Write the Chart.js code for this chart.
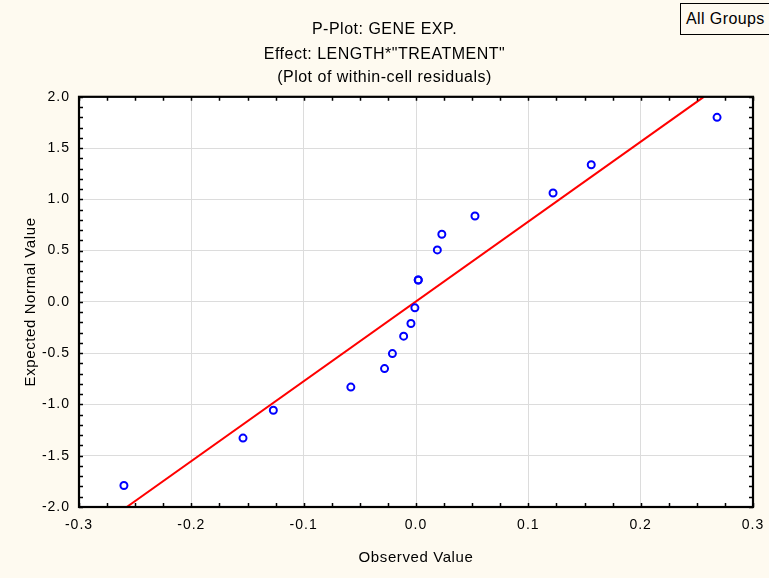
<!DOCTYPE html>
<html>
<head>
<meta charset="utf-8">
<script src="https://cdn.jsdelivr.net/npm/chart.js@4.4.1/dist/chart.umd.min.js"></script>
<style>
  html, body { margin: 0; padding: 0; background: #FEFAF0; }
  #wrap { position: relative; width: 769px; height: 578px; overflow: hidden; }
  #grp { position: absolute; left: 680px; top: 3px; width: 92px; height: 32px; border: 1px solid #000; background: #FEFAF0;
         font: 16px "Liberation Sans", Arial, sans-serif; letter-spacing: 0.4px; color: #000; line-height: 30px; padding-left: 5px; box-sizing: border-box; }
</style>
</head>
<body>
<div id="wrap">
  <canvas id="c" width="769" height="578"></canvas>
  <div id="grp">All Groups</div>
</div>
<script>
// Observed residuals (x) and expected normal values (y)
const observedValues = [-0.260, -0.154, -0.127, -0.058, -0.028, -0.021, -0.011, -0.0045, -0.001, 0.002, 0.002, 0.019, 0.023, 0.0525, 0.122, 0.156, 0.268];
const expectedNormal = [-1.790, -1.328, -1.056, -0.831, -0.650, -0.504, -0.334, -0.211, -0.058, 0.214, 0.214, 0.507, 0.660, 0.838, 1.062, 1.338, 1.800];
// Reference line endpoints
const lineX = [-0.2575, 0.2562];
const lineY = [-2.0, 2.0];
const xTicks = [-0.3, -0.2, -0.1, 0.0, 0.1, 0.2, 0.3];
const yTicks = [-2.0, -1.5, -1.0, -0.5, 0.0, 0.5, 1.0, 1.5, 2.0];
const titleText = 'P-Plot: GENE EXP.';
const subtitleLines = ['Effect: LENGTH*"TREATMENT"', '(Plot of within-cell residuals)'];

const FONT = '"Liberation Sans", Arial, sans-serif';

function withSpacing(obj, name, sp) {
  if (obj['__wrapped_' + name]) return;
  const orig = obj[name];
  obj[name] = function () {
    const ctx = this.ctx;
    const prev = ctx.letterSpacing;
    ctx.letterSpacing = sp;
    const r = orig.apply(this, arguments);
    ctx.letterSpacing = prev;
    return r;
  };
  obj['__wrapped_' + name] = true;
}

const framePlugin = {
  id: 'frame',
  beforeDraw(chart) {
    const {ctx, chartArea: a} = chart;
    ctx.save();
    ctx.fillStyle = '#FEFAF0';
    ctx.fillRect(0, 0, chart.width, chart.height);
    ctx.fillStyle = '#FFFFFF';
    ctx.fillRect(a.left, a.top, a.right - a.left, a.bottom - a.top);
    ctx.restore();
    ctx.letterSpacing = '0.5px';
    for (const id of ['x', 'y']) {
      const s = chart.scales[id];
      withSpacing(s, 'drawLabels', '1px');
      withSpacing(s, 'drawTitle', '0.6px');
    }
  },
  afterDraw(chart) {
    const {ctx, chartArea: a, scales} = chart;
    const xs = scales.x, ys = scales.y;
    ctx.save();
    ctx.strokeStyle = '#000';
    ctx.lineWidth = 1.5;
    ctx.beginPath();
    const xmin = xs.min, xmax = xs.max, ymin = ys.min, ymax = ys.max;
    for (let i = 0; i <= 24; i++) {
      const v = xmin + (xmax - xmin) * i / 24;
      const px = Math.round(xs.getPixelForValue(v)) + 0.5;
      ctx.moveTo(px, a.bottom); ctx.lineTo(px, a.bottom - 4);
      ctx.moveTo(px, a.top); ctx.lineTo(px, a.top + 4);
    }
    for (let i = 0; i <= 40; i++) {
      const v = ymin + (ymax - ymin) * i / 40;
      const py = Math.round(ys.getPixelForValue(v)) + 0.5;
      ctx.moveTo(a.left, py); ctx.lineTo(a.left + 4, py);
      ctx.moveTo(a.right, py); ctx.lineTo(a.right - 4, py);
    }
    ctx.stroke();
    ctx.lineWidth = 2.2;
    ctx.strokeRect(a.left, a.top, a.right - a.left, a.bottom - a.top);
    ctx.restore();
  }
};

new Chart(document.getElementById('c'), {
  type: 'scatter',
  data: {
    datasets: [
      {
        type: 'line',
        data: lineX.map((x, i) => ({x: x, y: lineY[i]})),
        borderColor: '#FF0000',
        borderWidth: 2,
        pointRadius: 0,
        fill: false,
        order: 2
      },
      {
        data: observedValues.map((x, i) => ({x: x, y: expectedNormal[i]})),
        pointStyle: 'circle',
        pointRadius: 3.5,
        pointBorderWidth: 2,
        pointBorderColor: '#0000FF',
        pointBackgroundColor: 'rgba(255,255,255,0)',
        order: 1
      }
    ]
  },
  options: {
    responsive: false,
    animation: false,
    devicePixelRatio: 1,
    layout: { padding: { left: 0, right: 0, top: 0, bottom: 0 } },
    plugins: {
      legend: { display: false },
      tooltip: { enabled: false },
      title: {
        display: true,
        text: titleText,
        color: '#000',
        font: { family: FONT, size: 16, weight: 'normal', lineHeight: 1.2 },
        padding: { top: 20, bottom: 2 }
      },
      subtitle: {
        display: true,
        text: subtitleLines,
        color: '#000',
        font: { family: FONT, size: 16, weight: 'normal', lineHeight: 1.41 },
        padding: { top: 2.5, bottom: 8 }
      }
    },
    scales: {
      x: {
        type: 'linear',
        min: -0.3, max: 0.3,
        afterFit(s) { s.height = 71; s.paddingLeft = 0; s.paddingRight = 0; },
        afterBuildTicks(s) { s.ticks = xTicks.map(v => ({value: v})); },
        ticks: {
          color: '#000',
          font: { family: FONT, size: 14 },
          padding: 10,
          maxRotation: 0,
          callback: v => v.toFixed(1)
        },
        grid: { color: '#DCDCDC', lineWidth: 1, drawTicks: false },
        border: { display: false },
        title: {
          display: true,
          text: 'Observed Value',
          color: '#000',
          font: { family: FONT, size: 15 },
          padding: { top: 0, bottom: 11 }
        }
      },
      y: {
        type: 'linear',
        min: -2.0, max: 2.0,
        afterFit(s) { s.width = 79; s.paddingTop = 0; s.paddingBottom = 0; },
        afterBuildTicks(s) { s.ticks = yTicks.map(v => ({value: v})); },
        ticks: {
          color: '#000',
          font: { family: FONT, size: 14 },
          padding: 9,
          callback: v => v.toFixed(1)
        },
        grid: { color: '#DCDCDC', lineWidth: 1, drawTicks: false },
        border: { display: false },
        title: {
          display: true,
          text: 'Expected Normal Value',
          color: '#000',
          font: { family: FONT, size: 15 },
          padding: { top: 21.5, bottom: 0 }
        }
      },
      yRight: {
        type: 'linear',
        position: 'right',
        min: -2.0, max: 2.0,
        afterFit(s) { s.width = 16; s.paddingTop = 0; s.paddingBottom = 0; },
        ticks: { display: false },
        grid: { display: false, drawTicks: false },
        border: { display: false },
        title: { display: false }
      }
    }
  },
  plugins: [framePlugin]
});
</script>
</body>
</html>
